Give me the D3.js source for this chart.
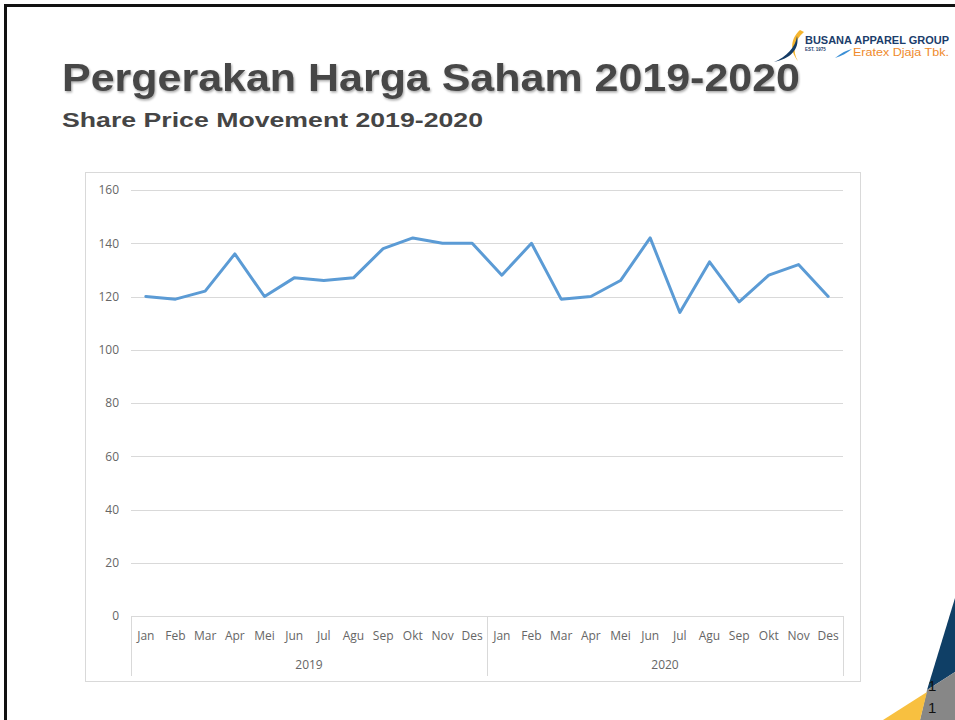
<!DOCTYPE html>
<html>
<head>
<meta charset="utf-8">
<script src="https://cdn.jsdelivr.net/npm/d3@7"></script>
<style>
  body { margin: 0; background: #fff; }
  svg { display: block; }
</style>
</head>
<body>
<div id="slide"></div>
<script>
const WIDTH = 955
const HEIGHT = 720

const years = ['2019', '2020']
const months = ['Jan', 'Feb', 'Mar', 'Apr', 'Mei', 'Jun', 'Jul', 'Agu', 'Sep', 'Okt', 'Nov', 'Des']
const prices2019 = [120, 119, 122, 136, 120, 127, 126, 127, 138, 142, 140, 140]
const prices2020 = [128, 140, 119, 120, 126, 142, 114, 133, 118, 128, 132, 120]
const yTicks = [0, 20, 40, 60, 80, 100, 120, 140, 160]

const title = 'Pergerakan Harga Saham 2019-2020'
const subtitle = 'Share Price Movement 2019-2020'

// plot area inside the chart frame
const PLOT = { left: 131, right: 843, top: 190, bottom: 616 }

const points = []
years.forEach((year, yi) => {
  const values = yi === 0 ? prices2019 : prices2020
  months.forEach((m, mi) => points.push({ key: `${year}-${m}`, year, month: m, value: values[mi] }))
})

const svg = d3.select('#slide')
  .append('svg')
    .attr('width', WIDTH)
    .attr('height', HEIGHT)

const defs = svg.append('defs')
const shadow = defs.append('filter').attr('id', 'shadow')
shadow.append('feDropShadow')
  .attr('dx', 1).attr('dy', 1.5).attr('stdDeviation', 0.8)
  .attr('flood-color', '#000').attr('flood-opacity', 0.35)

// slide border
svg.append('rect')
  .attr('x', 5.5).attr('y', 5.5)
  .attr('width', WIDTH + 20).attr('height', HEIGHT + 20)
  .attr('fill', 'none')
  .attr('stroke', '#111')
  .attr('stroke-width', 3)

// titles
svg.append('text')
  .attr('x', 62).attr('y', 91)
  .attr('font-family', 'Liberation Sans, Arial, sans-serif')
  .attr('font-weight', 'bold')
  .attr('font-size', 39)
  .attr('fill', '#474747')
  .attr('filter', 'url(#shadow)')
  .attr('textLength', 738)
  .attr('lengthAdjust', 'spacingAndGlyphs')
  .text(title)

svg.append('text')
  .attr('x', 62).attr('y', 127)
  .attr('font-family', 'Liberation Sans, Arial, sans-serif')
  .attr('font-weight', 'bold')
  .attr('font-size', 21)
  .attr('fill', '#454545')
  .attr('textLength', 421)
  .attr('lengthAdjust', 'spacingAndGlyphs')
  .text(subtitle)

// logo
const logo = svg.append('g')
logo.append('path')
  .attr('d', 'M800,30 C791,38 789,50 798,61 C792,52 794,40 804,32 Z')
  .attr('fill', '#f5b52e')
logo.append('path')
  .attr('d', 'M774,62 C786,57 796,47 797,36 C800,49 790,59 774,62 Z')
  .attr('fill', '#143c66')
logo.append('text')
  .attr('x', 805).attr('y', 44)
  .attr('font-family', 'Liberation Sans, Arial, sans-serif')
  .attr('font-weight', 'bold')
  .attr('font-size', 10.5)
  .attr('fill', '#1b3d6b')
  .attr('textLength', 144)
  .attr('lengthAdjust', 'spacingAndGlyphs')
  .text('BUSANA APPAREL GROUP')
logo.append('text')
  .attr('x', 805).attr('y', 51)
  .attr('font-family', 'Liberation Sans, Arial, sans-serif')
  .attr('font-size', 4.5)
  .attr('font-weight', 'bold')
  .attr('fill', '#1b3d6b')
  .text('EST. 1975')
logo.append('path')
  .attr('d', 'M835,58 C841,53 847,50 852,49 C847,53 842,56 835,58 Z')
  .attr('fill', '#3a8fd6')
logo.append('text')
  .attr('x', 853).attr('y', 56)
  .attr('font-family', 'Liberation Sans, Arial, sans-serif')
  .attr('font-size', 10.5)
  .attr('fill', '#ef8a2b')
  .attr('textLength', 96)
  .attr('lengthAdjust', 'spacingAndGlyphs')
  .text('Eratex Djaja Tbk.')

// chart frame
svg.append('rect')
  .attr('x', 85.5).attr('y', 172.5)
  .attr('width', 775).attr('height', 509)
  .attr('fill', '#fff')
  .attr('stroke', '#d9d9d9')
  .attr('stroke-width', 1)

const xScale = d3.scalePoint()
  .domain(points.map(d => d.key))
  .range([PLOT.left, PLOT.right])
  .padding(0.5)

const yScale = d3.scaleLinear()
  .domain([0, 160])
  .range([PLOT.bottom, PLOT.top])

const step = xScale.step()

// gridlines
svg.append('g')
  .selectAll('line')
  .data(yTicks.filter(t => t > 0))
  .join('line')
    .attr('x1', PLOT.left).attr('x2', PLOT.right)
    .attr('y1', d => Math.round(yScale(d)) + 0.5)
    .attr('y2', d => Math.round(yScale(d)) + 0.5)
    .attr('stroke', '#d9d9d9')

// y axis labels
const yAxis = svg.append('g')
  .attr('transform', `translate(${PLOT.left - 12}, 0)`)
  .call(d3.axisLeft(yScale).tickValues(yTicks).tickSize(0).tickPadding(0))
yAxis.select('.domain').remove()
yAxis.selectAll('text')
  .attr('font-family', 'Open Sans, sans-serif')
  .attr('font-size', 12)
  .attr('fill', '#666')

// category axis (months + years)
const xAxisG = svg.append('g')
xAxisG.append('line')
  .attr('x1', PLOT.left).attr('x2', PLOT.right)
  .attr('y1', PLOT.bottom + 0.5).attr('y2', PLOT.bottom + 0.5)
  .attr('stroke', '#d9d9d9')

const dividers = [0, 12, 24].map(i => PLOT.left + i * step)
xAxisG.selectAll('line.div')
  .data(dividers)
  .join('line')
    .attr('class', 'div')
    .attr('x1', d => Math.round(d) + 0.5).attr('x2', d => Math.round(d) + 0.5)
    .attr('y1', PLOT.bottom).attr('y2', 676)
    .attr('stroke', '#d9d9d9')

xAxisG.selectAll('text.month')
  .data(points)
  .join('text')
    .attr('class', 'month')
    .attr('x', d => xScale(d.key))
    .attr('y', 640)
    .attr('text-anchor', 'middle')
    .attr('font-family', 'Open Sans, sans-serif')
    .attr('font-size', 12)
    .attr('fill', '#666')
    .text(d => d.month)

xAxisG.selectAll('text.year')
  .data(years)
  .join('text')
    .attr('class', 'year')
    .attr('x', (d, i) => (dividers[i] + dividers[i + 1]) / 2)
    .attr('y', 669)
    .attr('text-anchor', 'middle')
    .attr('font-family', 'Open Sans, sans-serif')
    .attr('font-size', 12)
    .attr('fill', '#666')
    .text(d => d)

// price line
const line = d3.line()
  .x(d => xScale(d.key))
  .y(d => yScale(d.value))

svg.append('path')
  .datum(points)
  .attr('d', line)
  .attr('fill', 'none')
  .attr('stroke', '#5b9bd5')
  .attr('stroke-width', 3)
  .attr('stroke-linejoin', 'round')
  .attr('stroke-linecap', 'round')

// corner decoration
svg.append('polygon')
  .attr('points', '955,598 927,690 955,672')
  .attr('fill', '#0f3f66')
svg.append('polygon')
  .attr('points', '927,690 955,672 955,720 920,720')
  .attr('fill', '#878787')
svg.append('polygon')
  .attr('points', '927,692 920,720 883,720')
  .attr('fill', '#f8c040')

svg.append('text')
  .attr('x', 928).attr('y', 691)
  .attr('font-family', 'Liberation Sans, Arial, sans-serif')
  .attr('font-size', 15)
  .attr('fill', '#111')
  .text('1')
svg.append('text')
  .attr('x', 928).attr('y', 713)
  .attr('font-family', 'Liberation Sans, Arial, sans-serif')
  .attr('font-size', 15)
  .attr('fill', '#111')
  .text('1')
</script>
</body>
</html>
